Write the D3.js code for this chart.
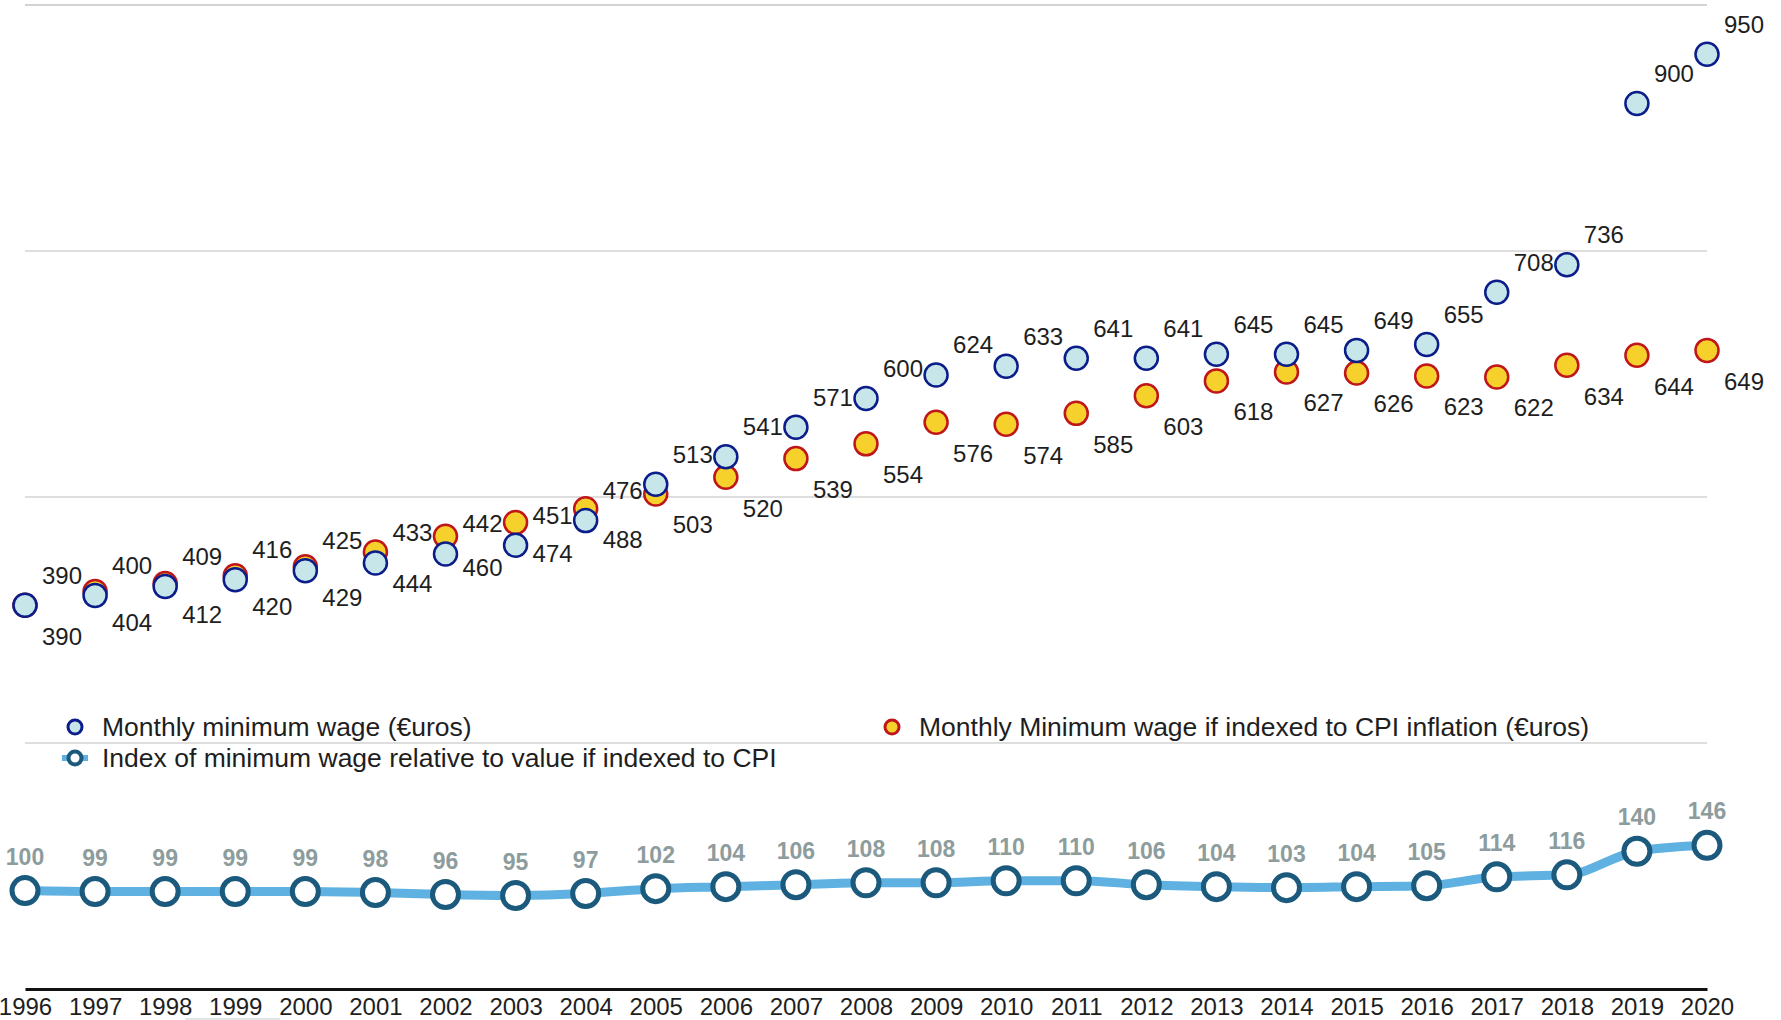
<!DOCTYPE html>
<html>
<head>
<meta charset="utf-8">
<script src="https://cdn.jsdelivr.net/npm/d3@7/dist/d3.min.js"></script>
<style>
  html, body { margin: 0; padding: 0; background: #ffffff; }
  svg { display: block; }
</style>
</head>
<body>
<svg id="chart" width="1781" height="1020"></svg>
<script>
// Years shown on the horizontal axis
const years = [1996, 1997, 1998, 1999, 2000, 2001, 2002, 2003, 2004, 2005, 2006, 2007,
               2008, 2009, 2010, 2011, 2012, 2013, 2014, 2015, 2016, 2017, 2018, 2019, 2020];

// Monthly minimum wage (euros)
const minWage = [390, 400, 409, 416, 425, 433, 442, 451, 476, 513, 541, 571,
                 600, 624, 633, 641, 641, 645, 645, 649, 655, 708, 736, 900, 950];

// Monthly minimum wage if indexed to CPI inflation (euros)
const cpiWage = [390, 404, 412, 420, 429, 444, 460, 474, 488, 503, 520, 539,
                 554, 576, 574, 585, 603, 618, 627, 626, 623, 622, 634, 644, 649];

// Index of minimum wage relative to its CPI-indexed value (1996 = 100)
const wageIndex = [100, 99, 99, 99, 99, 98, 96, 95, 97, 102, 104, 106,
                   108, 108, 110, 110, 106, 104, 103, 104, 105, 114, 116, 140, 146];

// Gridline values
const gridTicks = [250, 500, 750, 1000];

// Legend entries
const legendLabels = [
  "Monthly minimum wage (€uros)",
  "Monthly Minimum wage if indexed to CPI inflation (€uros)",
  "Index of minimum wage relative to value if indexed to CPI"
];

const C = {
  wageFill: "#c7e6e9", wageStroke: "#0b1d8a",
  cpiFill: "#f6d12c", cpiStroke: "#c0161a",
  idxLine: "#5eb1e0", idxStroke: "#1b5a7c", idxLabel: "#8d9c9c",
  grid: "#d3d3d3", text: "#1e1e1e"
};
const NUM_FONT = "'Liberation Sans Narrow', 'Arial Narrow', sans-serif";
const TXT_FONT = "'Liberation Sans', Arial, sans-serif";

const svg = d3.select("#chart");
const x = d3.scalePoint().domain(years).range([25, 1707]);
const y = d3.scaleLinear().domain([0, 1000]).range([989, 5]);

// Horizontal gridlines
svg.append("g").selectAll("line").data(gridTicks).join("line")
  .attr("x1", x(years[0])).attr("x2", x(years[years.length - 1]))
  .attr("y1", d => y(d)).attr("y2", d => y(d))
  .attr("stroke", C.grid)
  .attr("stroke-width", d => d === 1000 ? 2 : 1.5);

// Bottom axis with year labels
const xAxis = svg.append("g")
  .attr("transform", `translate(0,${y(0)})`)
  .call(d3.axisBottom(x).tickSize(0).tickPadding(0).tickFormat(d3.format("d")));
xAxis.select(".domain").attr("stroke", "#111").attr("stroke-width", 3);
xAxis.selectAll("text")
  .attr("y", 26).attr("dy", 0)
  .attr("font-family", NUM_FONT).attr("font-size", 24)
  .attr("fill", C.text);

// thin light rule under the 1999 label
svg.append("line")
  .attr("x1", x(1999) - 50).attr("x2", x(1999) + 45)
  .attr("y1", 1019).attr("y2", 1019)
  .attr("stroke", "#d8dde0").attr("stroke-width", 1.5);

// Index line with ring markers
const idxData = years.map((yr, i) => ({ yr, v: wageIndex[i] }));
svg.append("path")
  .datum(idxData)
  .attr("fill", "none")
  .attr("stroke", C.idxLine)
  .attr("stroke-width", 9)
  .attr("d", d3.line().x(d => x(d.yr)).y(d => y(d.v)).curve(d3.curveMonotoneX));

svg.append("g").selectAll("circle").data(idxData).join("circle")
  .attr("cx", d => x(d.yr)).attr("cy", d => y(d.v)).attr("r", 13)
  .attr("fill", "#ffffff").attr("stroke", C.idxStroke).attr("stroke-width", 5);

svg.append("g").selectAll("text").data(idxData).join("text")
  .attr("x", d => x(d.yr)).attr("y", d => y(d.v) - 34).attr("dy", "0.35em")
  .attr("text-anchor", "middle")
  .attr("font-family", NUM_FONT).attr("font-weight", "bold").attr("font-size", 23)
  .attr("fill", C.idxLabel)
  .text(d => d.v);

// CPI-indexed wage markers (drawn beneath the actual wage markers)
const cpiData = years.map((yr, i) => ({ yr, v: cpiWage[i] }));
const wageData = years.map((yr, i) => ({ yr, v: minWage[i] }));

svg.append("g").selectAll("circle").data(cpiData).join("circle")
  .attr("cx", d => x(d.yr)).attr("cy", d => y(d.v)).attr("r", 11.5)
  .attr("fill", C.cpiFill).attr("stroke", C.cpiStroke).attr("stroke-width", 2.5);

svg.append("g").selectAll("circle").data(wageData).join("circle")
  .attr("cx", d => x(d.yr)).attr("cy", d => y(d.v)).attr("r", 11.5)
  .attr("fill", C.wageFill).attr("stroke", C.wageStroke).attr("stroke-width", 2.5);

// Value labels: actual wage up-right, CPI-indexed wage down-right
const labelDx = 37;
svg.append("g").selectAll("text").data(wageData).join("text")
  .attr("x", d => x(d.yr) + labelDx).attr("y", d => y(d.v) - 30).attr("dy", "0.35em")
  .attr("text-anchor", "middle")
  .attr("font-family", NUM_FONT).attr("font-size", 24).attr("fill", C.text)
  .text(d => d.v);

svg.append("g").selectAll("text").data(cpiData).join("text")
  .attr("x", d => x(d.yr) + labelDx).attr("y", d => y(d.v) + 31).attr("dy", "0.35em")
  .attr("text-anchor", "middle")
  .attr("font-family", NUM_FONT).attr("font-size", 24).attr("fill", C.text)
  .text(d => d.v);

// Legend
const legend = svg.append("g");
const legendItems = [
  { x: 75, y: 727, label: legendLabels[0], kind: "wage" },
  { x: 892, y: 727, label: legendLabels[1], kind: "cpi" },
  { x: 75, y: 758, label: legendLabels[2], kind: "index" }
];
legendItems.forEach(it => {
  const g = legend.append("g").attr("transform", `translate(${it.x},${it.y})`);
  if (it.kind === "index") {
    g.append("line").attr("x1", -13).attr("x2", 13)
      .attr("stroke", C.idxLine).attr("stroke-width", 6);
    g.append("circle").attr("r", 6.5).attr("fill", "#fff")
      .attr("stroke", C.idxStroke).attr("stroke-width", 4);
  } else {
    g.append("circle").attr("r", 7)
      .attr("fill", it.kind === "wage" ? C.wageFill : C.cpiFill)
      .attr("stroke", it.kind === "wage" ? C.wageStroke : C.cpiStroke)
      .attr("stroke-width", 3);
  }
  g.append("text").attr("x", 27).attr("dy", "0.35em")
    .attr("font-family", TXT_FONT).attr("font-size", 26.5).attr("fill", C.text)
    .text(it.label);
});
</script>
</body>
</html>
